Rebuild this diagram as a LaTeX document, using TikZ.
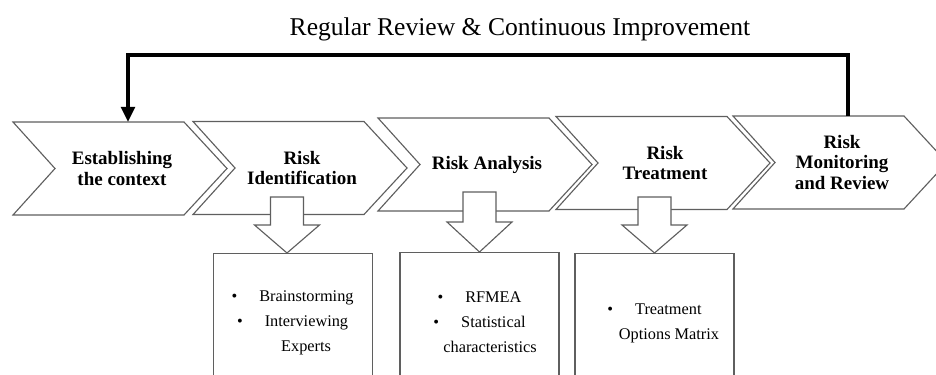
\documentclass[tikz,border=0pt]{standalone}
\usepackage{fontspec}
\setmainfont{Liberation Serif}
\usetikzlibrary{arrows.meta,calc,positioning}

\definecolor{edgegray}{RGB}{95,95,95}

\tikzset{
  chev/.style={draw=edgegray,line width=0.8pt,fill=white},
  chevlabel/.style={align=center,font=\bfseries\fontsize{13.5}{14.9}\selectfont},
  blockarrow/.style={draw=edgegray,line width=0.8pt,fill=white},
  listbox/.style={draw=edgegray,line width=0.8pt,minimum width=3.975cm,minimum height=3.6cm,anchor=north,inner sep=0pt},
  listtext/.style={align=center,font=\fontsize{11.6}{17.7}\selectfont},
  feedback/.style={line width=3.5pt,-{Triangle[length=0.38cm,width=0.34cm]}},
}

% chevron: name, left x, top y, label
\newcommand{\chevron}[4]{%
  \draw[chev] (#2,#3) -- ++(171,0) -- ++(43,46.5) -- ++(-43,46.5) -- ++(-171,0) -- ++(42,-46.5) -- cycle;
  \node[chevlabel] (#1) at ({#2+109},{#3+46.5}) {#4};
  \coordinate (#1-top) at ({#2+115},#3);
}

% block arrow pointing down: name of tip, centre x, top y, tip y
\newcommand{\blockdown}[4]{%
  \draw[blockarrow] ({#2-16.5},#3) -- ({#2+16.5},#3) -- ({#2+16.5},{(#3+#4)/2})
    -- ({#2+32.5},{(#3+#4)/2}) -- (#2,#4) -- ({#2-32.5},{(#3+#4)/2})
    -- ({#2-16.5},{(#3+#4)/2}) -- cycle;
  \coordinate (#1) at (#2,#4);
}

\begin{document}
\begin{tikzpicture}[x=0.025cm,y=-0.025cm]
\useasboundingbox (0,0) rectangle (936,375);
\clip (0,0) rectangle (936,375);

\node[font=\fontsize{18.2}{20}\selectfont,anchor=base] (title) at (520,35) {Regular Review \& Continuous Improvement};

% process steps
\chevron{est}{13}{122}{Establishing\\the context}
\chevron{ident}{193}{121.5}{Risk\\Identification}
\chevron{anal}{378}{118}{Risk Analysis}
\chevron{treat}{556}{116.5}{Risk\\Treatment}
\chevron{mon}{733}{116}{Risk\\Monitoring\\and Review}

% feedback loop
\draw[feedback] (mon-top) -- ++(0,-61) -| (est-top);

% tools per step
\blockdown{identtip}{287}{197}{253}
\blockdown{analtip}{479.5}{192}{252}
\blockdown{treattip}{654.5}{197}{253}

\node[listbox] (identbox) at ([xshift=0.14cm]identtip) {};
\node[listbox] (analbox) at (analtip) {};
\node[listbox] (treatbox) at (treattip) {};

\node[listtext] (identlist) at ([yshift=-1.75cm]identbox.north)
  {\textbullet\hspace{0.55cm}Brainstorming\\ \textbullet\hspace{0.55cm}Interviewing\\ \hspace{0.675cm}Experts};
\node[listtext] (anallist) at ([yshift=-1.75cm]analbox.north)
  {\textbullet\hspace{0.55cm}RFMEA\\ \textbullet\hspace{0.55cm}Statistical\\ \hspace{0.525cm}characteristics};
\node[listtext] (treatlist) at ([yshift=-1.75cm]treatbox.north)
  {\textbullet\hspace{0.55cm}Treatment\\ \hspace{0.725cm}Options Matrix};
\end{tikzpicture}
\end{document}
